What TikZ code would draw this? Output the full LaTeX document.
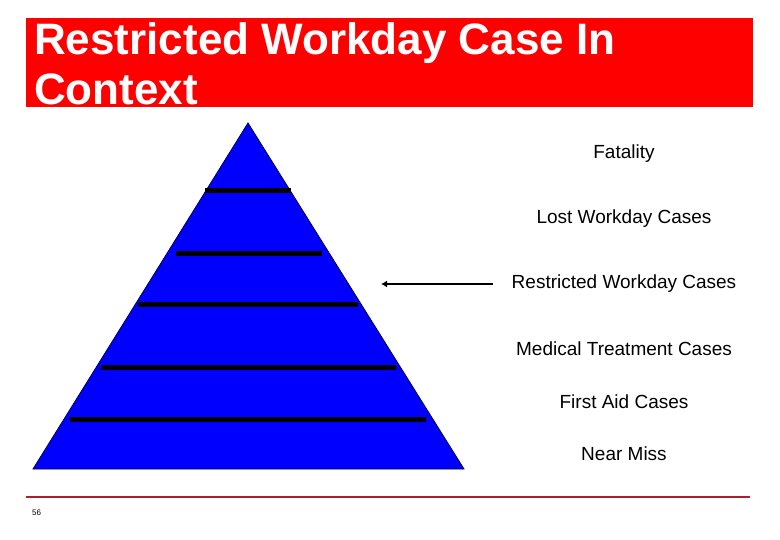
\documentclass[tikz,border=0pt]{standalone}
\usepackage{fontspec}
\setmainfont{Liberation Sans}
\usetikzlibrary{positioning, arrows.meta}
\definecolor{titlered}{RGB}{255,0,0}
\definecolor{pyrblue}{RGB}{0,0,255}
\definecolor{pyrline}{RGB}{0,0,70}
\definecolor{rulered}{RGB}{175,30,40}

\begin{document}
\begin{tikzpicture}[
    x=1pt, y=-1pt,
    titlebar/.style={fill=titlered, draw=none},
    titletext/.style={
        anchor=base west, inner sep=0pt,
        align=left, text=white,
        font=\fontsize{44}{50}\selectfont\bfseries
    },
    pyramid/.style={fill=pyrblue, draw=pyrline, line width=0.8pt},
    band/.style={draw=black, line width=5pt},
    level/.style={
        anchor=center, inner sep=0pt,
        font=\fontsize{19}{22}\selectfont
    },
    pointer/.style={-{Latex[length=6pt, width=7pt]}, line width=2pt, draw=black},
    footrule/.style={draw=rulered, line width=2.5pt},
    pagenum/.style={anchor=west, inner sep=0pt, font=\fontsize{8}{9}\selectfont}
]

% ============ Frame ============
\useasboundingbox (0,0) rectangle (780,540);
\fill[titlebar] (26,18) rectangle (753,107);
\node[titletext] (title) at (34,105) {Restricted Workday Case In\\Context};

% ============ Pyramid ============
\draw[pyramid] (248,123) -- (464,469) -- (33,469) -- cycle;
\foreach \y/\xl/\xr in {191/205/291, 254/176/322, 305/138/358, 368/101/396, 419/70/426}
    \draw[band] (\xl,\y) -- (\xr,\y);

% ============ Levels ============
\node[level] (fatality)   at (624,154) {Fatality};
\node[level] (lost)       at (624,219) {Lost Workday Cases};
\node[level] (restricted) at (624,284) {Restricted Workday Cases};
\node[level] (medical)    at (624,349) {Medical Treatment Cases};
\node[level] (firstaid)   at (624,402) {First Aid Cases};
\node[level] (nearmiss)   at (624,454) {Near Miss};

% ============ Pointer ============
\coordinate (tip) at (381,284);
\draw[pointer] ([xshift=-19pt]restricted.west |- tip) -- (tip);

% ============ Footer ============
\draw[footrule] (26,497) -- (750,497);
\node[pagenum] (page) at (32,513) {56};

\end{tikzpicture}
\end{document}
